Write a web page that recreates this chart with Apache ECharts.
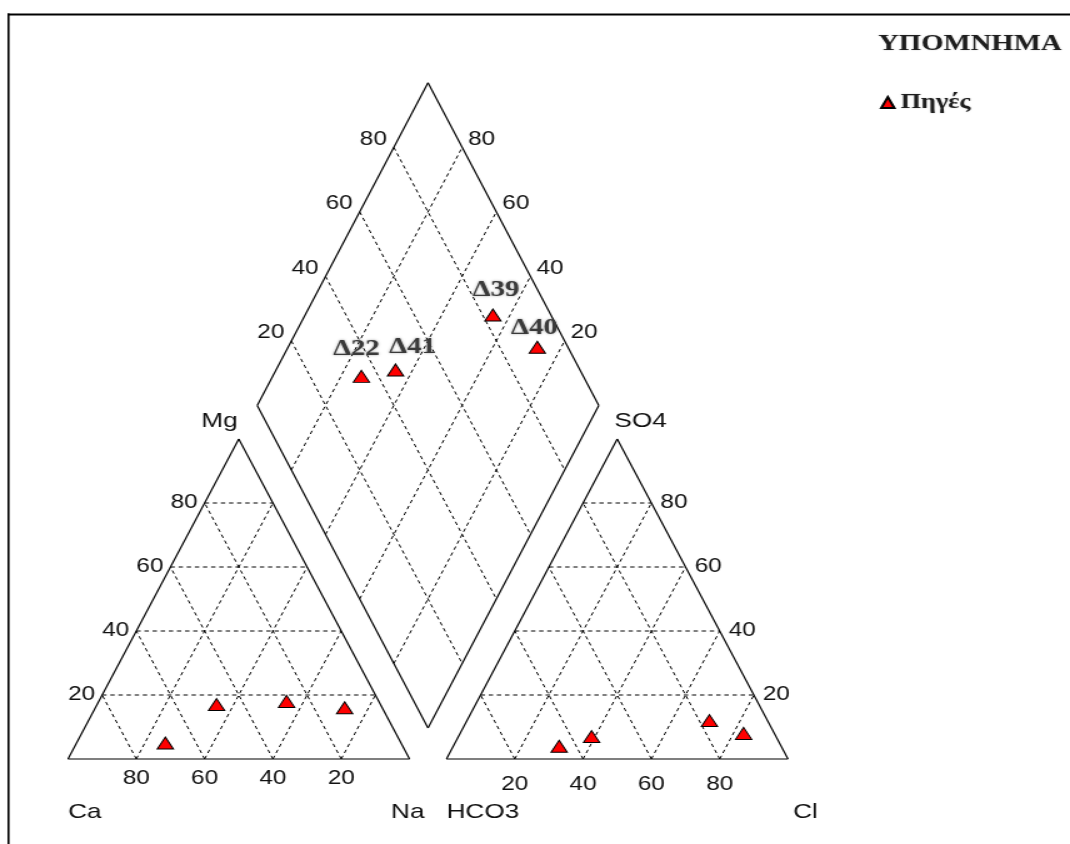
<!DOCTYPE html>
<html>
<head>
<meta charset="utf-8">
<script src="https://cdn.jsdelivr.net/npm/echarts@6/dist/echarts.min.js"></script>
<style>
  html, body { margin: 0; padding: 0; background: #fff; overflow: hidden; }
  #wrap { width: 1070px; height: 844px; position: relative; overflow: hidden; background: #fff; }
  /* the drawing is laid out narrow and widened horizontally */
  #chart { position: absolute; left: 0; top: 0; width: 856px; height: 844px;
           transform: scaleX(1.25); transform-origin: 0 0; }
</style>
</head>
<body>
<div id="wrap"><div id="chart"></div></div>
<script>
// ---- sample data (milliequivalent %) ----
const samples = ['Δ22', 'Δ41', 'Δ39', 'Δ40'];
const ca   = [69, 48, 27, 11];
const mg   = [5, 17, 18, 16];
const na   = [26, 35, 55, 73];
const hco3 = [65, 54, 17, 9];
const so4  = [4, 7, 12, 8];
const cl   = [31, 39, 71, 83];
const ticks = [20, 40, 60, 80];
const cationNames = ['Ca', 'Mg', 'Na'];
const anionNames = ['HCO3', 'SO4', 'Cl'];
const legendTitle = 'ΥΠΟΜΝΗΜΑ';
const seriesName = 'Πηγές';

// ---- layout ----
const SX = 1.25;          // horizontal widening applied to #chart
const GAP = 10.8;         // gap between the two triangles (x units)
const LIFT = 9.7;         // lower diamond vertex above the triangle bases (y units)
const DH = 100.8;         // half height of the diamond (y units)
const PX_Y = 3.2;         // px per y unit (triangle height 100 units)
const YMAX = LIFT + 2 * DH;
const TICK_FONT = 19.5;
const NAME_FONT = 21;
const labelShift = [[-5, -27], [17, -23], [3, -25], [-3, -19]];  // final px

// ternary -> plot units
const cat = (m, n) => [n + m / 2, m];                       // Ca left, Na right, Mg apex
const an  = (s, c) => [100 + GAP + c + s / 2, s];           // HCO3 left, Cl right, SO4 apex
const dia = (s, n) => [50 + GAP / 2 + 50 * (s + n) / 100,
                       LIFT + DH + DH * (s - n) / 100];     // s = SO4+Cl, n = Na

const solid = [], dashed = [], texts = [];
const seg = (arr, a, b) => arr.push([a[0], a[1], b[0], b[1]]);
const txt = (p, text, dx, dy, align, size) => texts.push({ p, text, dx, dy, align, size });

// frames
seg(solid, cat(0, 0), cat(0, 100)); seg(solid, cat(0, 100), cat(100, 0)); seg(solid, cat(100, 0), cat(0, 0));
seg(solid, an(0, 0), an(0, 100));   seg(solid, an(0, 100), an(100, 0));   seg(solid, an(100, 0), an(0, 0));
seg(solid, dia(0, 0), dia(100, 0)); seg(solid, dia(100, 0), dia(100, 100));
seg(solid, dia(100, 100), dia(0, 100)); seg(solid, dia(0, 100), dia(0, 0));

// dashed grids and tick labels
ticks.forEach(t => {
  seg(dashed, cat(t, 0), cat(t, 100 - t));            // Mg
  seg(dashed, cat(0, t), cat(100 - t, t));            // Na
  seg(dashed, cat(0, 100 - t), cat(100 - t, 0));      // Ca
  seg(dashed, an(t, 0), an(t, 100 - t));              // SO4
  seg(dashed, an(0, t), an(100 - t, t));              // Cl
  seg(dashed, an(0, 100 - t), an(100 - t, 0));        // HCO3
  seg(dashed, dia(t, 0), dia(t, 100));                // SO4+Cl
  seg(dashed, dia(0, t), dia(100, t));                // Na (Ca+Mg)

  txt(cat(0, 100 - t), String(t), 0, 20, 'center', TICK_FONT);     // Ca along base
  txt(cat(t, 0), String(t), -7, 0, 'right', TICK_FONT);            // Mg along left edge
  txt(an(0, t), String(t), 0, 25.5, 'center', TICK_FONT);          // Cl along base
  txt(an(t, 100 - t), String(t), 9, 0, 'left', TICK_FONT);         // SO4 along right edge
  txt(dia(t, 0), String(t), -7, -8, 'right', TICK_FONT);           // SO4+Cl
  txt(dia(100, 100 - t), String(t), 6, -8, 'left', TICK_FONT);     // Ca+Mg
});

// end-member names
txt(cat(0, 0), cationNames[0], 0, 53, 'left', NAME_FONT);
txt(cat(100, 0), cationNames[1], -1, -18, 'right', NAME_FONT);
txt(cat(0, 100), cationNames[2], 15, 53, 'right', NAME_FONT);
txt(an(0, 0), anionNames[0], 0, 53, 'left', NAME_FONT);
txt(an(100, 0), anionNames[1], -3, -18, 'left', NAME_FONT);
txt(an(0, 100), anionNames[2], 5, 53, 'left', NAME_FONT);

// sample points
const cationPts = samples.map((name, i) => ({ name, value: cat(mg[i], na[i]) }));
const anionPts  = samples.map((name, i) => ({ name, value: an(so4[i], cl[i]) }));
const diamondPts = samples.map((name, i) => ({
  name,
  value: dia(so4[i] + cl[i], na[i]),
  label: { offset: [labelShift[i][0] / SX, labelShift[i][1]] }
}));

const lineRender = (dash) => (params, api) => {
  const a = api.coord([api.value(0), api.value(1)]);
  const b = api.coord([api.value(2), api.value(3)]);
  return {
    type: 'line',
    shape: { x1: a[0], y1: a[1], x2: b[0], y2: b[1] },
    style: { stroke: '#000', lineWidth: dash ? 1 : 1.2, lineDash: dash ? [3.5, 3] : null, fill: null }
  };
};

const pointStyle = {
  symbol: 'triangle',
  symbolSize: [13, 12],
  itemStyle: { color: '#ff0000', borderColor: '#000', borderWidth: 1, opacity: 1 },
  z: 5
};

const chart = echarts.init(document.getElementById('chart'));
chart.setOption({
  animation: false,
  backgroundColor: '#fff',
  title: {
    text: legendTitle, left: 878 / SX, top: 33, padding: 0,
    textStyle: { fontFamily: 'Liberation Serif, Times New Roman, serif', fontWeight: 'bold',
                 fontSize: 23, color: '#1e1e1e', textShadowColor: 'rgba(0,0,0,0.25)', textShadowBlur: 1.5 }
  },
  legend: {
    data: [seriesName], left: 880 / SX, top: 92, padding: 0,
    itemWidth: 10.5, itemHeight: 11, itemGap: 5,
    textStyle: { fontFamily: 'Liberation Serif, Times New Roman, serif', fontWeight: 'bold',
                 fontSize: 21, color: '#1e1e1e', textShadowColor: 'rgba(0,0,0,0.25)', textShadowBlur: 1.5 }
  },
  graphic: [
    { type: 'line', shape: { x1: 6.8, y1: 13.5, x2: 6.8, y2: 900 }, style: { stroke: '#000', lineWidth: 1.6 } },
    { type: 'line', shape: { x1: 6, y1: 14.5, x2: 900, y2: 14.5 }, style: { stroke: '#000', lineWidth: 2 } }
  ],
  grid: { left: 68 / SX, width: 720 / SX, bottom: 85, height: YMAX * PX_Y },
  xAxis: { type: 'value', min: 0, max: 200 + GAP, show: false },
  yAxis: { type: 'value', min: 0, max: YMAX, show: false },
  series: [
    { type: 'custom', data: solid, renderItem: lineRender(false), encode: { x: [0, 2], y: [1, 3] },
      clip: false, silent: true, z: 2 },
    { type: 'custom', data: dashed, renderItem: lineRender(true), encode: { x: [0, 2], y: [1, 3] },
      clip: false, silent: true, z: 1 },
    { type: 'custom', data: texts.map((t, i) => [t.p[0], t.p[1], i]), encode: { x: 0, y: 1 },
      clip: false, silent: true, z: 3,
      renderItem: (params, api) => {
        const t = texts[api.value(2)];
        const c = api.coord([api.value(0), api.value(1)]);
        return {
          type: 'text', x: c[0] + t.dx / SX, y: c[1] + t.dy,
          style: { text: t.text, fill: '#111', align: t.align, verticalAlign: 'middle',
                   font: t.size + 'px "Liberation Sans", Arial, sans-serif' }
        };
      } },
    Object.assign({ type: 'scatter', name: seriesName, data: cationPts }, pointStyle),
    Object.assign({ type: 'scatter', name: seriesName, data: anionPts }, pointStyle),
    Object.assign({ type: 'scatter', name: seriesName, data: diamondPts,
      label: { show: true, position: 'inside', formatter: '{b}',
               fontFamily: 'Liberation Serif, Times New Roman, serif', fontWeight: 'bold', fontSize: 23,
               color: '#3a3a3a', textShadowColor: 'rgba(0,0,0,0.4)', textShadowBlur: 2.5 } }, pointStyle)
  ]
});
</script>
</body>
</html>
